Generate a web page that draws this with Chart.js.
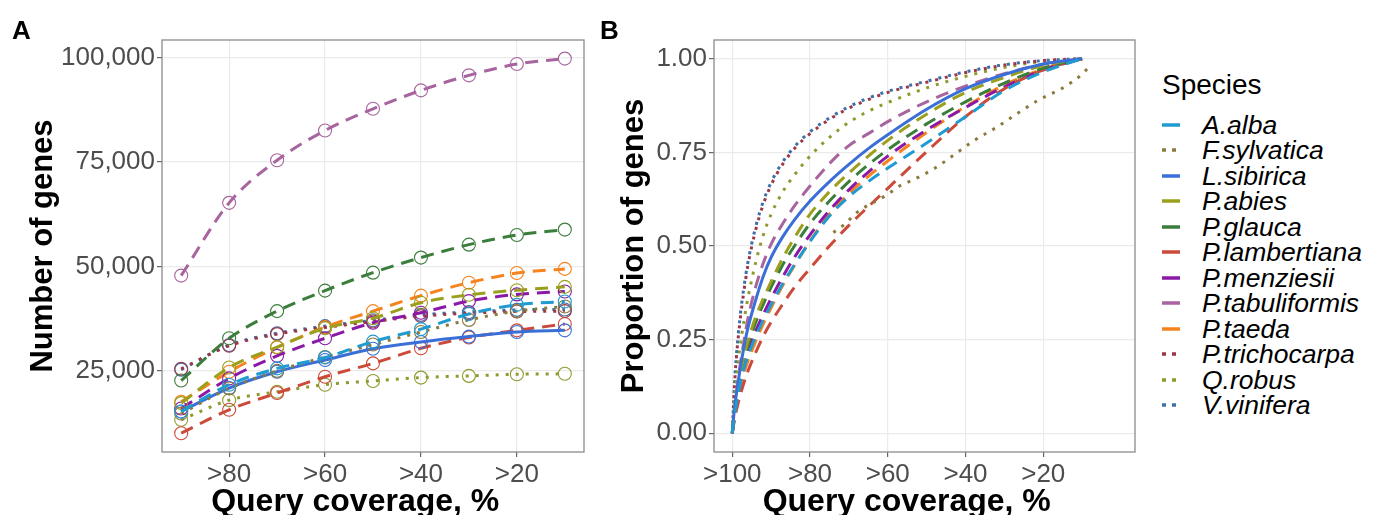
<!DOCTYPE html>
<html>
<head>
<meta charset="utf-8">
<script src="https://cdn.jsdelivr.net/npm/chart.js@4.4.1/dist/chart.umd.min.js"></script>
<style>
    html, body { margin: 0; padding: 0; background: #fff; }
    #wrap { position: relative; width: 1386px; height: 515px; overflow: hidden; font-family: "Liberation Sans", Arial, sans-serif; }
    #chartA { position: absolute; left: 0; top: 0; }
    #chartB { position: absolute; left: 600px; top: 0; }
    .tag { position: absolute; font-weight: bold; font-size: 26px; line-height: 1; color: #000; }
    #legend { position: absolute; left: 1160px; top: 0; width: 226px; height: 515px; }
    #legend .title { position: absolute; left: 2px; top: 70px; font-size: 28px; line-height: 30px; color: #000; }
    #legend .item { position: absolute; left: 0; height: 26px; width: 226px; }
    #legend .item svg { position: absolute; left: 0; top: 0; }
    #legend .item span { position: absolute; left: 42px; top: 0; line-height: 26px; font-size: 26.5px; font-style: italic; color: #000; white-space: nowrap; }
</style>
</head>
<body>
<div id="wrap">
    <canvas id="chartA" width="600" height="515"></canvas>
    <canvas id="chartB" width="550" height="515"></canvas>
    <div class="tag" style="left:12px; top:17px;">A</div>
    <div class="tag" style="left:600px; top:17px;">B</div>
    <div id="legend"></div>
</div>
<script>
// ---- data ----
const species = ['A.alba', 'F.sylvatica', 'L.sibirica', 'P.abies', 'P.glauca', 'P.lambertiana',
                 'P.menziesii', 'P.tabuliformis', 'P.taeda', 'P.trichocarpa', 'Q.robus', 'V.vinifera'];
const speciesColors = ['#1f9bd1', '#8c7b3e', '#3a6fd8', '#9aa01e', '#3b7d3b', '#cc4a3a',
                       '#8b19a8', '#a8649e', '#f5841f', '#9c3747', '#8f9a2e', '#3d6fa8'];
const speciesLines = ['dashed', 'dotted', 'solid', 'dashed', 'dashed', 'dashed',
                      'dashed', 'dashed', 'dashed', 'dotted', 'dotted', 'dotted'];

// panel A: number of genes at each coverage threshold
const coverageA = [90, 80, 70, 60, 50, 40, 30, 20, 10];
const aAlbaA = [15300, 21700, 25600, 28200, 32000, 35000, 38600, 40800, 41600];
const fSylvaticaA = [14800, 20800, 25000, 28300, 31300, 34300, 37200, 39300, 40400];
const lSibiricaA = [15300, 20900, 24800, 27600, 30300, 31900, 33200, 34300, 34700];
const pAbiesA = [17300, 25800, 30700, 35200, 37600, 41300, 43200, 44300, 45100];
const pGlaucaA = [22700, 32800, 39300, 44200, 48500, 52100, 55200, 57500, 58800];
const pLambertianaA = [10100, 15700, 19700, 23600, 26800, 30400, 33000, 34700, 36200];
const pMenziesiiA = [16000, 23200, 28600, 32800, 36500, 38900, 41700, 43300, 44000];
const pTabuliformisA = [47800, 65200, 75400, 82500, 87700, 92100, 95700, 98400, 99700];
const pTaedaA = [17600, 24800, 30600, 35500, 39300, 43000, 46100, 48400, 49400];
const pTrichocarpaA = [25500, 31000, 33800, 35400, 36800, 38100, 38800, 39200, 39300];
const qRobusA = [13300, 18000, 20000, 21700, 22600, 23400, 23800, 24200, 24300];
const vViniferaA = [25300, 31200, 34000, 35700, 37100, 38400, 39100, 39600, 39700];

// panel B: cumulative proportion of genes
const coverageB = [100, 99.5, 99, 98, 97, 96, 94, 92, 90, 87, 84, 80, 75, 70, 65, 60, 50, 40, 30, 20, 10];
const aAlbaB = [0, 0.04, 0.075, 0.13, 0.172, 0.205, 0.258, 0.303, 0.343, 0.4, 0.45, 0.512, 0.58, 0.632, 0.672, 0.708, 0.775, 0.845, 0.915, 0.965, 1];
const lSibiricaB = [0, 0.06, 0.1, 0.17, 0.23, 0.28, 0.355, 0.42, 0.47, 0.525, 0.57, 0.62, 0.672, 0.718, 0.76, 0.797, 0.865, 0.92, 0.958, 0.986, 1];
const pAbiesB = [0, 0.05, 0.09, 0.155, 0.205, 0.245, 0.31, 0.36, 0.405, 0.468, 0.522, 0.585, 0.645, 0.695, 0.74, 0.782, 0.852, 0.91, 0.95, 0.982, 1];
const pGlaucaB = [0, 0.048, 0.087, 0.148, 0.195, 0.233, 0.295, 0.345, 0.39, 0.45, 0.5, 0.56, 0.62, 0.672, 0.717, 0.757, 0.826, 0.885, 0.935, 0.975, 1];
const pLambertianaB = [0, 0.032, 0.058, 0.1, 0.135, 0.165, 0.215, 0.26, 0.297, 0.345, 0.39, 0.44, 0.5, 0.555, 0.605, 0.654, 0.752, 0.845, 0.92, 0.97, 1];
const pMenziesiiB = [0, 0.042, 0.078, 0.135, 0.18, 0.215, 0.272, 0.318, 0.36, 0.418, 0.47, 0.53, 0.595, 0.65, 0.697, 0.74, 0.81, 0.87, 0.925, 0.97, 1];
const pTabuliformisB = [0, 0.055, 0.1, 0.18, 0.245, 0.305, 0.39, 0.455, 0.505, 0.56, 0.607, 0.66, 0.72, 0.768, 0.8, 0.832, 0.885, 0.927, 0.96, 0.985, 1];
const pTaedaB = [0, 0.038, 0.07, 0.12, 0.16, 0.192, 0.245, 0.293, 0.335, 0.395, 0.448, 0.513, 0.585, 0.64, 0.686, 0.727, 0.803, 0.872, 0.93, 0.972, 1];
const pTrichocarpaB = [0, 0.115, 0.195, 0.3, 0.38, 0.447, 0.542, 0.612, 0.663, 0.719, 0.76, 0.8, 0.838, 0.868, 0.891, 0.91, 0.937, 0.963, 0.983, 0.995, 1];
const qRobusB = [0, 0.08, 0.14, 0.23, 0.3, 0.36, 0.455, 0.53, 0.585, 0.645, 0.69, 0.74, 0.79, 0.83, 0.86, 0.883, 0.922, 0.953, 0.977, 0.993, 1];
const vViniferaB = [0, 0.12, 0.2, 0.31, 0.39, 0.455, 0.55, 0.62, 0.67, 0.725, 0.765, 0.805, 0.842, 0.872, 0.895, 0.913, 0.94, 0.965, 0.984, 0.995, 1];
// F.sylvatica has its own coverage points in B
const fSylvaticaCovB = [74, 71, 68, 60, 57, 54, 48, 43, 38, 32, 26.5, 21, 15, 10, 7.6];
const fSylvaticaB = [0.536, 0.559, 0.589, 0.638, 0.66, 0.674, 0.707, 0.743, 0.78, 0.817, 0.855, 0.891, 0.922, 0.959, 0.986];

// ticks
const xTicksA = [80, 60, 40, 20];
const yTicksA = [25000, 50000, 75000, 100000];
const xTicksB = [100, 80, 60, 40, 20];
const yTicksB = [0, 0.25, 0.5, 0.75, 1];

const seriesA = [aAlbaA, fSylvaticaA, lSibiricaA, pAbiesA, pGlaucaA, pLambertianaA,
                 pMenziesiiA, pTabuliformisA, pTaedaA, pTrichocarpaA, qRobusA, vViniferaA];
const seriesB = [aAlbaB, fSylvaticaB, lSibiricaB, pAbiesB, pGlaucaB, pLambertianaB,
                 pMenziesiiB, pTabuliformisB, pTaedaB, pTrichocarpaB, qRobusB, vViniferaB];

const FONT = '"Liberation Sans", Arial, sans-serif';
const dashFor = t => t === 'dashed' ? [13, 8] : (t === 'dotted' ? [3, 7] : []);

// grey box round the panel, like theme_bw
const panelBorder = {
    id: 'panelBorder',
    afterDraw(chart) {
        const { ctx, chartArea: a } = chart;
        ctx.save();
        ctx.strokeStyle = '#8c8c8c';
        ctx.lineWidth = 1.3;
        ctx.setLineDash([]);
        ctx.strokeRect(a.left, a.top, a.right - a.left, a.bottom - a.top);
        ctx.restore();
    }
};

function axis(opts) {
    return {
        type: 'linear',
        reverse: !!opts.reverse,
        min: opts.min,
        max: opts.max,
        afterBuildTicks: s => { s.ticks = opts.ticks.map(v => ({ value: v })); },
        afterFit: s => { if (opts.width) s.width = opts.width; if (opts.height) s.height = opts.height; },
        ticks: {
            callback: opts.label,
            color: '#4d4d4d',
            font: { family: FONT, size: 26 },
            padding: opts.tickPad,
            autoSkip: false,
            maxRotation: 0
        },
        grid: { color: '#ebebeb', lineWidth: 1.2, tickColor: '#666', tickLength: 5, drawTicks: true },
        border: { display: false },
        title: {
            display: true,
            text: opts.title,
            color: '#000',
            font: { family: FONT, size: opts.titleSize || 31, weight: 'bold', lineHeight: 1 },
            padding: opts.titlePad
        }
    };
}

// trailing spaces nudge the centred x title a little to the left, as in the figure
const xTitle = 'Query coverage, %\u00a0\u00a0\u00a0\u00a0';

// ---- panel A ----
const datasetsA = species.map((name, i) => ({
    label: name,
    data: coverageA.map((c, k) => ({ x: c, y: seriesA[i][k] })),
    borderColor: speciesColors[i],
    borderWidth: 3,
    borderDash: dashFor(speciesLines[i]),
    borderCapStyle: 'butt',
    cubicInterpolationMode: 'monotone',
    pointRadius: 6.5,
    pointBorderWidth: 1.1,
    pointBorderColor: speciesColors[i],
    pointBackgroundColor: 'rgba(0,0,0,0)',
    fill: false
}));

new Chart(document.getElementById('chartA'), {
    type: 'line',
    data: { datasets: datasetsA },
    options: {
        responsive: false,
        animation: false,
        devicePixelRatio: 1,
        layout: { padding: { top: 40, right: 16, left: 0, bottom: 0 } },
        plugins: { legend: { display: false }, tooltip: { enabled: false } },
        scales: {
            x: axis({ reverse: true, min: 6, max: 94, ticks: xTicksA, label: v => '>' + v,
                      title: xTitle, titleSize: 32, height: 63, tickPad: 2, titlePad: { top: 0, bottom: -3 } }),
            y: axis({ min: 5600, max: 104150, ticks: yTicksA, label: v => v.toLocaleString('en-US'),
                      title: 'Number of genes', width: 162, tickPad: 2, titlePad: { top: 28, bottom: 0 } })
        }
    },
    plugins: [panelBorder]
});

// ---- panel B ----
const datasetsB = species.map((name, i) => {
    const cov = name === 'F.sylvatica' ? fSylvaticaCovB : coverageB;
    return {
        label: name,
        data: cov.map((c, k) => ({ x: c, y: seriesB[i][k] })),
        borderColor: speciesColors[i],
        borderWidth: 3,
        borderDash: dashFor(speciesLines[i]),
        borderDashOffset: name === 'P.trichocarpa' ? 5 : 0,
        borderCapStyle: 'butt',
        cubicInterpolationMode: 'monotone',
        pointRadius: 0,
        fill: false
    };
});

new Chart(document.getElementById('chartB'), {
    type: 'line',
    data: { datasets: datasetsB },
    options: {
        responsive: false,
        animation: false,
        devicePixelRatio: 1,
        layout: { padding: { top: 40, right: 15, left: 0, bottom: 0 } },
        plugins: { legend: { display: false }, tooltip: { enabled: false } },
        scales: {
            x: axis({ reverse: true, min: -3.6, max: 104.7, ticks: xTicksB, label: v => '>' + v,
                      title: xTitle, titleSize: 32, height: 63, tickPad: 2, titlePad: { top: 0, bottom: -3 } }),
            y: axis({ min: -0.05, max: 1.05, ticks: yTicksB, label: v => v.toFixed(2),
                      title: 'Proportion of genes', width: 114, tickPad: 2, titlePad: { top: 19, bottom: 0 } })
        }
    },
    plugins: [panelBorder]
});

// ---- legend (html) ----
const legendEl = document.getElementById('legend');
legendEl.innerHTML = '<div class="title">Species</div>';
species.forEach((name, i) => {
    const dash = speciesLines[i] === 'dotted' ? '4,6' : 'none';
    const item = document.createElement('div');
    item.className = 'item';
    item.style.top = (112 + i * 25.45) + 'px';
    item.innerHTML =
        '<svg width="24" height="26"><line x1="2" y1="13" x2="20" y2="13" stroke="' + speciesColors[i] +
        '" stroke-width="3.5" stroke-dasharray="' + dash + '"/></svg><span>' + name + '</span>';
    legendEl.appendChild(item);
});
</script>
</body>
</html>
